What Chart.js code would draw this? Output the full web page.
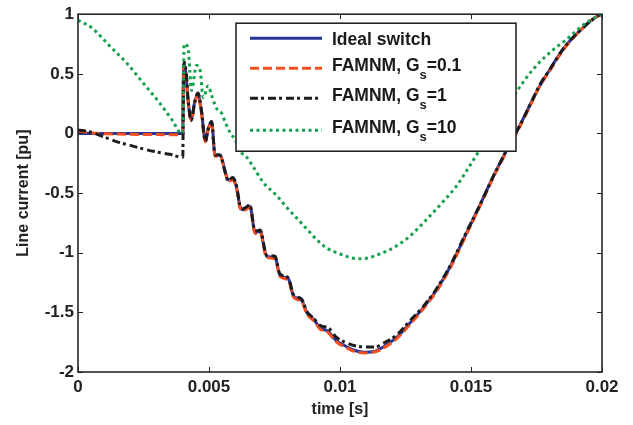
<!DOCTYPE html>
<html>
<head>
<meta charset="utf-8">
<script src="https://cdn.jsdelivr.net/npm/chart.js@4/dist/chart.umd.min.js"></script>
<style>
  html, body { margin: 0; padding: 0; background: #ffffff; }
  #wrap { width: 633px; height: 425px; }
</style>
</head>
<body>
<div id="wrap"><canvas id="c" width="633" height="425"></canvas></div>
<script>
// Axis ticks
const xTicks = [0, 0.005, 0.01, 0.015, 0.02];
const xTickLabels = ['0', '0.005', '0.01', '0.015', '0.02'];
const yTicks = [1, 0.5, 0, -0.5, -1, -1.5, -2];
const yTickLabels = ['1', '0.5', '0', '-0.5', '-1', '-1.5', '-2'];

// Ideal switch
const tIdeal = [0, 0.0040, 0.00401, 0.00404, 0.00412, 0.00420, 0.00432, 0.00446, 0.00458, 0.00472,
  0.00486, 0.00497, 0.00510, 0.00523, 0.00542, 0.00561, 0.00573, 0.00590, 0.00605, 0.00618,
  0.00631, 0.00656, 0.00676, 0.00695, 0.00720, 0.00752, 0.00771, 0.00803, 0.00822, 0.00854,
  0.00873, 0.00900, 0.00924, 0.00955, 0.00987, 0.01019, 0.01057, 0.01095, 0.01134, 0.01165,
  0.01216, 0.01267, 0.01318, 0.01369, 0.01420, 0.01484, 0.01534, 0.01585, 0.01636, 0.01687,
  0.01732, 0.01763, 0.01802, 0.01852, 0.01929, 0.01980, 0.02000];
const iIdeal = [0, 0, 0.30, 0.58, 0.50, 0.28, 0.12, 0.27, 0.33, 0.17,
  -0.06, 0.04, 0.10, -0.18, -0.18, -0.31, -0.39, -0.38, -0.45, -0.61,
  -0.64, -0.61, -0.83, -0.82, -1.03, -1.04, -1.19, -1.22, -1.36, -1.40,
  -1.50, -1.56, -1.63, -1.66, -1.74, -1.78, -1.82, -1.835, -1.825, -1.79,
  -1.71, -1.59, -1.46, -1.31, -1.12, -0.83, -0.60, -0.36, -0.14, 0.07,
  0.27, 0.40, 0.54, 0.71, 0.89, 0.98, 1.0];

// FAMNM, Gs = 0.1
const tG01 = [0, 0.0008, 0.0040, 0.00401, 0.00404, 0.00412, 0.00420, 0.00432, 0.00446, 0.00458, 0.00472,
  0.00486, 0.00497, 0.00510, 0.00523, 0.00542, 0.00561, 0.00573, 0.00590, 0.00605, 0.00618,
  0.00631, 0.00656, 0.00676, 0.00695, 0.00720, 0.00752, 0.00771, 0.00803, 0.00822, 0.00854,
  0.00873, 0.00900, 0.00924, 0.00955, 0.00987, 0.01019, 0.01057, 0.01095, 0.01134, 0.01165,
  0.01216, 0.01267, 0.01318, 0.01369, 0.01420, 0.01484, 0.01534, 0.01585, 0.01636, 0.01687,
  0.01732, 0.01763, 0.01802, 0.01852, 0.01929, 0.01980, 0.02000];
const iG01 = [0.02, 0.0, -0.01, 0.30, 0.57, 0.49, 0.27, 0.11, 0.26, 0.32, 0.16,
  -0.07, 0.03, 0.09, -0.19, -0.19, -0.32, -0.40, -0.39, -0.46, -0.62,
  -0.65, -0.62, -0.84, -0.83, -1.04, -1.05, -1.20, -1.23, -1.37, -1.41,
  -1.51, -1.57, -1.64, -1.67, -1.75, -1.79, -1.83, -1.84, -1.83, -1.80,
  -1.72, -1.60, -1.47, -1.32, -1.13, -0.84, -0.61, -0.37, -0.15, 0.06,
  0.26, 0.40, 0.53, 0.70, 0.89, 0.98, 1.0];

// FAMNM, Gs = 1
const tG1 = [0, 0.0005, 0.0010, 0.0015, 0.0020, 0.0025, 0.0030, 0.0035, 0.0040, 0.00402, 0.00405,
  0.00413, 0.00420, 0.00432, 0.00446, 0.00458, 0.00472, 0.00486, 0.00497, 0.00510, 0.00523,
  0.00542, 0.00561, 0.00573, 0.00590, 0.00605, 0.00618, 0.00631, 0.00656, 0.00676, 0.00695,
  0.00720, 0.00752, 0.00771, 0.00803, 0.00822, 0.00854, 0.00873, 0.00900, 0.00924, 0.00955,
  0.00987, 0.01019, 0.01057, 0.01095, 0.01134, 0.01165, 0.01216, 0.01267, 0.01318, 0.01369,
  0.01420, 0.01484, 0.01534, 0.01585, 0.01636, 0.01687, 0.01732, 0.01763, 0.01802, 0.01852,
  0.01929, 0.01980, 0.02000];
const iG1 = [0.03, 0.01, -0.03, -0.07, -0.10, -0.13, -0.155, -0.175, -0.20, 0.25, 0.60,
  0.51, 0.29, 0.11, 0.27, 0.34, 0.18, -0.07, 0.04, 0.10, -0.18,
  -0.18, -0.32, -0.40, -0.37, -0.44, -0.60, -0.63, -0.60, -0.82, -0.81,
  -1.02, -1.03, -1.18, -1.21, -1.35, -1.39, -1.49, -1.55, -1.61, -1.63,
  -1.71, -1.75, -1.78, -1.79, -1.79, -1.76, -1.69, -1.57, -1.45, -1.30,
  -1.11, -0.82, -0.60, -0.36, -0.14, 0.07, 0.27, 0.41, 0.54, 0.71,
  0.89, 0.98, 1.0];

// FAMNM, Gs = 10
const tG10 = [0, 0.0005, 0.00127, 0.0019, 0.0025, 0.0031, 0.0036, 0.00395, 0.00400, 0.00405,
  0.00420, 0.00427, 0.00433, 0.00452, 0.00466, 0.00478, 0.00497, 0.00510, 0.00529, 0.00548,
  0.00561, 0.00580, 0.00599, 0.00624, 0.00644, 0.00669, 0.00707, 0.00758, 0.00797, 0.00835,
  0.00873, 0.00911, 0.00949, 0.01000, 0.01038, 0.01076, 0.01115, 0.01140, 0.01203, 0.01267,
  0.01331, 0.01394, 0.01445, 0.01484, 0.01547, 0.01611, 0.01674, 0.01738, 0.01802, 0.01865,
  0.01929, 0.01980, 0.02000];
const iG10 = [0.95, 0.89, 0.72, 0.58, 0.42, 0.26, 0.11, 0.0, 0.02, 0.75,
  0.72, 0.52, 0.36, 0.57, 0.53, 0.30, 0.40, 0.32, 0.21, 0.17,
  0.10, 0.01, -0.05, -0.16, -0.20, -0.28, -0.41, -0.52, -0.62, -0.71,
  -0.80, -0.89, -0.96, -1.01, -1.04, -1.05, -1.04, -1.02, -0.96, -0.86,
  -0.72, -0.57, -0.44, -0.31, -0.09, 0.12, 0.35, 0.54, 0.68, 0.79,
  0.91, 0.98, 1.0];

const seriesNames = ['Ideal switch', 'FAMNM, G', 'FAMNM, G', 'FAMNM, G'];
const seriesSuffix = ['', '=0.1', '=1', '=10'];

const FONT = '"Liberation Sans", Arial, Helvetica, sans-serif';
const pts = (t, v) => t.map((x, i) => ({ x, y: v[i] }));

const styles = [
  { color: '#27359b', dash: [] },
  { color: '#f4501f', dash: [9, 4] },
  { color: '#1c1c1c', dash: [8, 3, 3, 4] },
  { color: '#13a24c', dash: [3, 3.5] }
];

const datasets = [
  { label: 'Ideal switch', data: pts(tIdeal, iIdeal), order: 4 },
  { label: 'FAMNM, Gs=0.1', data: pts(tG01, iG01), order: 3 },
  { label: 'FAMNM, Gs=1', data: pts(tG1, iG1), order: 2 },
  { label: 'FAMNM, Gs=10', data: pts(tG10, iG10), order: 1 }
].map((d, i) => Object.assign(d, {
  borderColor: styles[i].color,
  backgroundColor: styles[i].color,
  borderDash: styles[i].dash,
  borderWidth: 3,
  pointRadius: 0,
  cubicInterpolationMode: 'monotone',
  fill: false
}));

// Frame with inward ticks on all four sides
const framePlugin = {
  id: 'frame',
  afterDatasetsDraw(chart) {
    const { ctx, chartArea: a, scales: { x, y } } = chart;
    ctx.save();
    ctx.strokeStyle = '#262626';
    ctx.lineWidth = 1.6;
    ctx.strokeRect(a.left, a.top, a.right - a.left, a.bottom - a.top);
    ctx.lineWidth = 1;
    ctx.beginPath();
    xTicks.forEach(v => {
      const px = Math.round(x.getPixelForValue(v)) + 0.5;
      ctx.moveTo(px, a.bottom); ctx.lineTo(px, a.bottom - 5);
      ctx.moveTo(px, a.top); ctx.lineTo(px, a.top + 5);
    });
    yTicks.forEach(v => {
      const py = Math.round(y.getPixelForValue(v)) + 0.5;
      ctx.moveTo(a.left, py); ctx.lineTo(a.left + 5, py);
      ctx.moveTo(a.right, py); ctx.lineTo(a.right - 5, py);
    });
    ctx.stroke();
    ctx.restore();
  }
};

// Boxed legend with subscripted G_s
const legendPlugin = {
  id: 'boxLegend',
  afterDraw(chart) {
    const { ctx, chartArea: a } = chart;
    const bx = a.left + 158, by = a.top + 9, bw = 280, bh = 128;
    ctx.save();
    ctx.fillStyle = '#ffffff';
    ctx.fillRect(bx, by, bw, bh);
    ctx.strokeStyle = '#1a1a1a';
    ctx.lineWidth = 1.5;
    ctx.strokeRect(bx, by, bw, bh);
    const rows = [15, 45, 75, 107];
    chart.data.datasets.forEach((ds, i) => {
      const ry = by + rows[i];
      ctx.save();
      ctx.strokeStyle = ds.borderColor;
      ctx.lineWidth = 3;
      ctx.setLineDash(ds.borderDash);
      ctx.beginPath();
      ctx.moveTo(bx + 14, ry);
      ctx.lineTo(bx + 86, ry);
      ctx.stroke();
      ctx.restore();
      ctx.fillStyle = '#1a1a1a';
      ctx.textBaseline = 'middle';
      ctx.textAlign = 'left';
      ctx.font = 'bold 17.5px ' + FONT;
      let tx = bx + 96;
      if (!seriesSuffix[i]) {
        ctx.fillText(seriesNames[i], tx, ry + 2);
      } else {
        const ty = ry - 2;
        ctx.fillText(seriesNames[i], tx, ty);
        tx += ctx.measureText(seriesNames[i]).width;
        ctx.font = 'bold 13px ' + FONT;
        ctx.fillText('s', tx, ty + 9);
        tx += ctx.measureText('s').width;
        ctx.font = 'bold 17.5px ' + FONT;
        ctx.fillText(seriesSuffix[i], tx, ty);
      }
    });
    ctx.restore();
  }
};

new Chart(document.getElementById('c'), {
  type: 'line',
  data: { datasets },
  options: {
    responsive: false,
    animation: false,
    events: [],
    layout: { padding: { top: 12, right: 31, left: 0, bottom: 0 } },
    plugins: { legend: { display: false }, tooltip: { enabled: false } },
    scales: {
      x: {
        type: 'linear',
        min: 0, max: 0.02,
        afterBuildTicks: s => { s.ticks = xTicks.map(v => ({ value: v })); },
        afterFit: s => { s.height = 53; },
        grid: { display: false, drawTicks: false },
        border: { display: false },
        ticks: {
          padding: 5,
          color: '#222222',
          maxRotation: 0,
          autoSkip: false,
          font: { family: FONT, size: 17, weight: 'bold' },
          callback: (v) => xTickLabels[xTicks.indexOf(v)]
        },
        title: {
          display: true, text: 'time [s]', color: '#222222',
          font: { family: FONT, size: 16, weight: 'bold' },
          padding: { top: 0, bottom: 6 }
        }
      },
      y: {
        type: 'linear',
        min: -2, max: 1,
        afterBuildTicks: s => { s.ticks = yTicks.map(v => ({ value: v })); },
        afterFit: s => { s.width = 78; },
        grid: { display: false, drawTicks: false },
        border: { display: false },
        ticks: {
          padding: 4,
          color: '#222222',
          autoSkip: false,
          font: { family: FONT, size: 17, weight: 'bold' },
          callback: (v) => yTickLabels[yTicks.indexOf(v)]
        },
        title: {
          display: true, text: 'Line current [pu]', color: '#222222',
          font: { family: FONT, size: 16, weight: 'bold' },
          padding: { top: 14, bottom: 0 }
        }
      }
    }
  },
  plugins: [framePlugin, legendPlugin]
});
</script>
</body>
</html>
